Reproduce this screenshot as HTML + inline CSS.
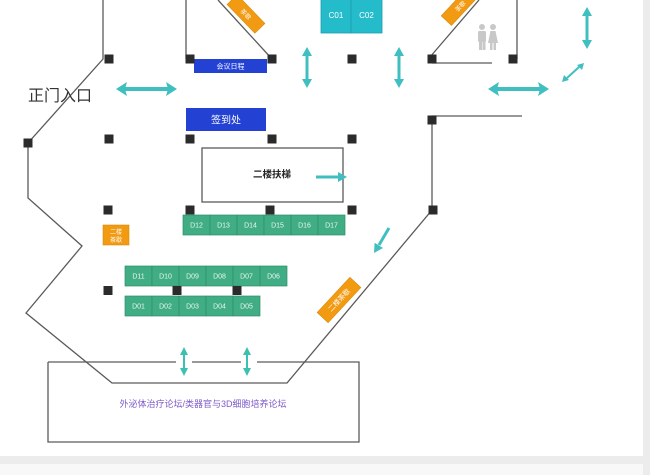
<!DOCTYPE html>
<html><head><meta charset="utf-8"><style>
html,body{margin:0;padding:0;background:#fff;}
svg{display:block;font-family:"Liberation Sans","Noto Sans CJK SC",sans-serif;}
</style></head><body>
<svg width="650" height="475" viewBox="0 0 650 475" xmlns="http://www.w3.org/2000/svg">
<rect width="650" height="475" fill="#fff"/>
<rect x="0" y="464" width="650" height="11" fill="#f8f8f8"/>
<rect x="0" y="456" width="650" height="8" fill="#ececec"/>
<rect x="643" y="0" width="7" height="475" fill="#ececec"/>
<rect x="0" y="0" width="643" height="456" fill="#fff"/>

<!-- walls -->
<g fill="none" stroke="#5a5a5a" stroke-width="1.3">
<polyline points="103,0 103,59 28,143 28,198 82,246 26,313 112,383 287,383 432,210 432,116 522,116"/>
<polyline points="186,0 186,59"/>
<polyline points="218,0 272,59"/>
<polyline points="517,0 517,59"/>
<polyline points="430,57 479,0"/>
<polyline points="432,63 492,63"/>
<rect x="202" y="148" width="141" height="54"/>
<path d="M48,362 L176,362 M192,362 L241,362 M257,362 L359,362 L359,442 L48,442 L48,362"/>
</g>

<!-- text 正门入口 -->
<text x="28" y="101" font-size="16" fill="#333">正门入口</text>

<!-- top orange labels -->
<g transform="translate(246,14) rotate(46)">
<rect x="-20" y="-7" width="40" height="14" fill="#f29a11" stroke="#d98a0a" stroke-width="0.6"/>
<text x="0" y="2.5" font-size="6" fill="#fff" text-anchor="middle">茶歇</text>
</g>
<g transform="translate(460,6) rotate(-47)">
<rect x="-20" y="-7" width="40" height="14" fill="#f29a11" stroke="#d98a0a" stroke-width="0.6"/>
<text x="0" y="2.5" font-size="6" fill="#fff" text-anchor="middle">茶歇</text>
</g>
<g transform="translate(339,300) rotate(-47)">
<rect x="-24" y="-7.5" width="48" height="15" fill="#f29a11" stroke="#d98a0a" stroke-width="0.6"/>
<text x="0" y="2.5" font-size="7" fill="#fff" text-anchor="middle">二楼茶歇</text>
</g>
<rect x="103" y="225" width="26" height="20" fill="#f29a11" stroke="#d98a0a" stroke-width="0.6"/>
<text x="116" y="234" font-size="6" fill="#fff" text-anchor="middle">二楼</text>
<text x="116" y="242" font-size="6" fill="#fff" text-anchor="middle">茶歇</text>

<!-- C01 C02 -->
<rect x="321" y="-1" width="30" height="34" fill="#24bccb" stroke="#1a9fae" stroke-width="0.8"/>
<rect x="351" y="-1" width="31" height="34" fill="#24bccb" stroke="#1a9fae" stroke-width="0.8"/>
<text x="336" y="18" font-size="8" fill="#fff" text-anchor="middle">C01</text>
<text x="366.5" y="18" font-size="8" fill="#fff" text-anchor="middle">C02</text>

<!-- blue bars -->
<rect x="194" y="59" width="73" height="14" fill="#2342d4"/>
<text x="230.5" y="68.5" font-size="7" fill="#fff" text-anchor="middle">会议日程</text>
<rect x="186" y="108" width="80" height="23" fill="#2342d4"/>
<text x="226" y="123.5" font-size="10" fill="#fff" text-anchor="middle">签到处</text>

<!-- 二楼扶梯 -->
<text x="272" y="177.5" font-size="9.5" fill="#222" text-anchor="middle" font-weight="bold">二楼扶梯</text>

<!-- toilet icon -->
<g fill="#c8c8c8">
<circle cx="482" cy="27" r="3"/>
<rect x="478" y="31" width="8" height="11" rx="1.5"/>
<rect x="479" y="41" width="3" height="9"/>
<rect x="482.5" y="41" width="3" height="9"/>
<circle cx="493" cy="27" r="3"/>
<polygon points="490.5,31 495.5,31 498,43 488,43"/>
<rect x="490" y="42" width="2.5" height="8"/>
<rect x="493.5" y="42" width="2.5" height="8"/>
</g>

<!-- booths -->
<g stroke="#2f8f69" stroke-width="0.7" fill="#40ad84">
<rect x="183" y="215" width="27" height="20"/><rect x="210" y="215" width="27" height="20"/><rect x="237" y="215" width="27" height="20"/><rect x="264" y="215" width="27" height="20"/><rect x="291" y="215" width="27" height="20"/><rect x="318" y="215" width="27" height="20"/>
<rect x="125" y="266" width="27" height="20"/><rect x="152" y="266" width="27" height="20"/><rect x="179" y="266" width="27" height="20"/><rect x="206" y="266" width="27" height="20"/><rect x="233" y="266" width="27" height="20"/><rect x="260" y="266" width="27" height="20"/>
<rect x="125" y="296" width="27" height="20"/><rect x="152" y="296" width="27" height="20"/><rect x="179" y="296" width="27" height="20"/><rect x="206" y="296" width="27" height="20"/><rect x="233" y="296" width="27" height="20"/>
</g>
<g font-size="7" fill="#eaf7f1" text-anchor="middle">
<text x="196.5" y="227.5">D12</text><text x="223.5" y="227.5">D13</text><text x="250.5" y="227.5">D14</text><text x="277.5" y="227.5">D15</text><text x="304.5" y="227.5">D16</text><text x="331.5" y="227.5">D17</text>
<text x="138.5" y="278.5">D11</text><text x="165.5" y="278.5">D10</text><text x="192.5" y="278.5">D09</text><text x="219.5" y="278.5">D08</text><text x="246.5" y="278.5">D07</text><text x="273.5" y="278.5">D06</text>
<text x="138.5" y="308.5">D01</text><text x="165.5" y="308.5">D02</text><text x="192.5" y="308.5">D03</text><text x="219.5" y="308.5">D04</text><text x="246.5" y="308.5">D05</text>
</g>

<!-- pillars -->
<g fill="#2b2b2b">
<rect x="104.5" y="54.5" width="9" height="9"/>
<rect x="185.5" y="54.5" width="9" height="9"/>
<rect x="267.5" y="54.5" width="9" height="9"/>
<rect x="347.5" y="54.5" width="9" height="9"/>
<rect x="427.5" y="54.5" width="9" height="9"/>
<rect x="508.5" y="54.5" width="9" height="9"/>
<rect x="23.5" y="138.5" width="9" height="9"/>
<rect x="104.5" y="134.5" width="9" height="9"/>
<rect x="185.5" y="134.5" width="9" height="9"/>
<rect x="267.5" y="134.5" width="9" height="9"/>
<rect x="347.5" y="134.5" width="9" height="9"/>
<rect x="427.5" y="115.5" width="9" height="9"/>
<rect x="103.5" y="205.5" width="9" height="9"/>
<rect x="185.5" y="205.5" width="9" height="9"/>
<rect x="265.5" y="205.5" width="9" height="9"/>
<rect x="347.5" y="205.5" width="9" height="9"/>
<rect x="428.5" y="205.5" width="9" height="9"/>
<rect x="103.5" y="286" width="9" height="9"/>
<rect x="172.5" y="286" width="9" height="9"/>
<rect x="232.5" y="286" width="9" height="9"/>
</g>

<!-- arrows -->
<g fill="#3fbfc0" stroke="none">
<rect x="124" y="87" width="45" height="4"/>
<polygon points="116,89 127,82 125,89 127,96"/>
<polygon points="177,89 166,82 168,89 166,96"/>
<rect x="496" y="87" width="45" height="4"/>
<polygon points="488,89 499,82 497,89 499,96"/>
<polygon points="549,89 538,82 540,89 538,96"/>
<rect x="305.5" y="54" width="3" height="27"/>
<polygon points="307,47 302,56 312,56"/>
<polygon points="307,88 302,79 312,79"/>
<rect x="397.5" y="54" width="3" height="27"/>
<polygon points="399,47 394,56 404,56"/>
<polygon points="399,88 394,79 404,79"/>
<rect x="585.5" y="14" width="3" height="28"/>
<polygon points="587,7 582,16 592,16"/>
<polygon points="587,49 582,40 592,40"/>
<rect x="316" y="175.5" width="24" height="3"/>
<polygon points="347,177 338,172 338,182"/>
<polygon points="374,253 383,248 374.6,242.7"/>
</g>
<g stroke="#3fbfc0" fill="none">
<line x1="567" y1="78" x2="579" y2="67" stroke-width="2"/>
<line x1="389" y1="228" x2="379" y2="245" stroke-width="3"/>
</g>
<g fill="#3fbfc0">
<polygon points="562,82 564,75 569,80"/>
<polygon points="584,63 577,65 582,70"/>
</g>
<g fill="#3cc0b0">
<rect x="183" y="353" width="2" height="17"/>
<polygon points="184,347 180,355 188,355"/>
<polygon points="184,376 180,368 188,368"/>
<rect x="246" y="353" width="2" height="17"/>
<polygon points="247,347 243,355 251,355"/>
<polygon points="247,376 243,368 251,368"/>
</g>

<!-- forum text -->
<text x="203" y="407" font-size="9" fill="#7f5ac8" text-anchor="middle">外泌体治疗论坛/类器官与3D细胞培养论坛</text>
</svg>
</body></html>
